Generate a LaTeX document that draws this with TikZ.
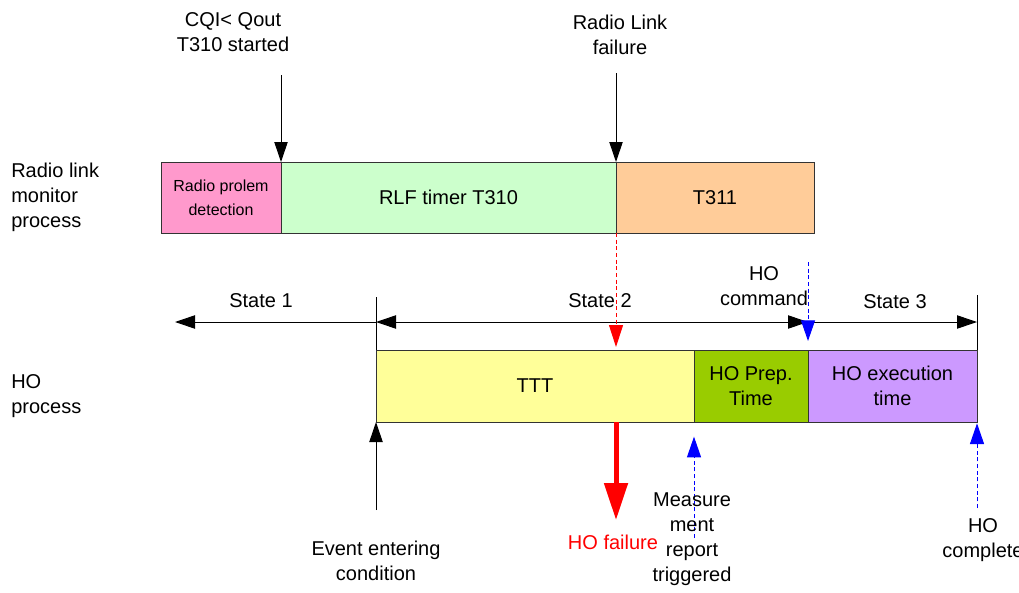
\documentclass[tikz,border=0pt]{standalone}
\usepackage{fontspec}
\setmainfont{Liberation Sans}
\usepackage{xcolor}
\usetikzlibrary{arrows.meta, positioning, calc}

\definecolor{rlpink}{HTML}{FF99CC}
\definecolor{rlgreen}{HTML}{CCFFCC}
\definecolor{rlorange}{HTML}{FFCC99}
\definecolor{hoyellow}{HTML}{FFFF99}
\definecolor{hoolive}{HTML}{99CC00}
\definecolor{hopurple}{HTML}{CC99FF}

\begin{document}
\begin{tikzpicture}[
    x=0.75pt, y=-0.75pt,
    blk/.tip={Triangle[length=15pt,width=10pt]},
    blu/.tip={Triangle[length=15.5pt,width=10.5pt]},
    lbl/.style={font=\fontsize{15}{18.75}\selectfont, align=center, inner sep=0pt},
    box/.style={draw=black!80, line width=0.75pt, inner sep=0pt, outer sep=0pt,
        align=center, font=\fontsize{15}{18.75}\selectfont},
    topbox/.style={box, minimum height=53.25pt},
    hobox/.style={box, minimum height=54pt},
    flow/.style={-blk, line width=0.75pt},
    state/.style={blk-blk, line width=0.75pt},
    tick/.style={line width=0.75pt},
    redflow/.style={-{Triangle[length=16.5pt,width=10.5pt]}, red, line width=0.75pt,
        dash pattern=on 3pt off 2pt},
    blueflow/.style={-blu, blue, line width=0.75pt, dash pattern=on 3pt off 2pt},
    failflow/.style={-{Triangle[length=27.75pt,width=17.25pt]}, red, line width=3.75pt}
]
\useasboundingbox (0,0) rectangle (1019,592);

% Row labels
\node[lbl, align=left, anchor=west] (rlm) at (11,197) {Radio link\\monitor\\process};
\node[lbl, align=left, anchor=west] (hop) at (11,396) {HO\\process};

% Radio link monitor process
\node[topbox, fill=rlpink, minimum width=90pt, font=\fontsize{12}{18}\selectfont] (pink) at (221,197.5) {Radio prolem\\detection};
\node[topbox, fill=rlgreen, minimum width=251.25pt] (t310) at (448.5,197.5) {RLF timer T310};
\node[topbox, fill=rlorange, minimum width=148.5pt] (t311) at (715,197.5) {T311};

% Events on top
\node[lbl] (cqi) at (233,32.5) {CQI< Qout\\T310 started};
\node[lbl] (rlf) at (620,34.5) {Radio Link\\failure};
\coordinate (cqiA) at (281,75);
\coordinate (rlfA) at (616,73);
\draw[flow] (cqiA) -- (pink.north east);
\draw[flow] (rlfA) -- (t310.north east);

% HO process
\node[hobox, fill=hoyellow, minimum width=238.5pt] (ttt) at (535,386) {TTT};
\node[hobox, fill=hoolive, minimum width=85.5pt] (prep) at (751,386) {HO Prep.\\Time};
\node[hobox, fill=hopurple, minimum width=126.75pt] (exec) at (892.5,386) {HO execution\\time};

% States
\coordinate (s1) at (175,322);
\coordinate (s2) at (376,322);
\coordinate (s3) at (808,322);
\coordinate (s4) at (977,322);
\coordinate (s2top) at (376,297);
\coordinate (s4top) at (977,295);
\draw[tick] (s2top) -- (ttt.north west);
\draw[tick] (s4top) -- (exec.north east);
\draw[flow] (s2) -- (s1);
\draw[state] (s2) -- (s3);
\draw[flow] (s3) -- (s4);
\node[lbl] (st1) at (261,301) {State 1};
\node[lbl] (st2) at (600,301) {State 2};
\node[lbl] (st3) at (895,302) {State 3};

% HO command
\node[lbl] (cmd) at (764,286) {HO\\command};
\coordinate (cmdtop) at (808,262);
\coordinate (cmdtip) at (808,341);
\draw[blueflow] (cmdtop) -- (cmdtip);

% RLF into HO process
\coordinate (rlftip) at (616,347);
\draw[redflow] (t311.south west) -- (rlftip);

% Events below
\coordinate (evbot) at (376,510);
\draw[flow] (evbot) -- (ttt.south west);
\node[lbl] (ev) at (376,560.5) {Event entering\\condition};

\coordinate (failtop) at (616,422);
\coordinate (failtip) at (616,520);
\draw[failflow] (failtop) -- (failtip);
\node[lbl, text=red] (fail) at (613,542) {HO failure};

\coordinate (mrbot) at (694,538);
\draw[blueflow, shorten >=11pt] (mrbot) -- (prep.south west);
\node[lbl] (mr) at (692,539.5) {Measure\\ment\\report\\triggered};

\coordinate (hocbot) at (977,508);
\draw[blueflow, shorten >=1pt] (hocbot) -- (exec.south east);
\node[lbl] (hoc) at (983,540.5) {HO\\complete};

\end{tikzpicture}
\end{document}
